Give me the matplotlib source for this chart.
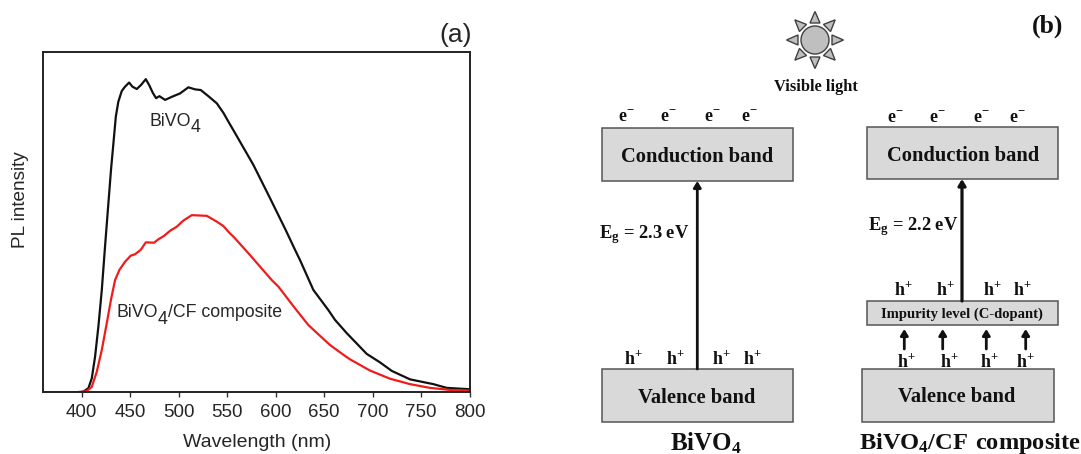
import matplotlib
matplotlib.use("Agg")
import matplotlib.pyplot as plt
import numpy as np
from matplotlib.patches import Rectangle, Polygon, Circle

# --- data ---
bivo4_wl = [360, 393, 401.6, 406.8, 410.3, 413.7, 417.1, 420.6, 424, 427.4, 430.2, 432.6, 435.1, 437.7, 441.2,
            444.6, 448.8, 452.2, 456.7, 461.1, 466, 469.4, 473.2, 476.6, 480, 485.9, 492.8, 501.3, 509.9,
            516.8, 522.7, 530.5, 539.2, 546, 552.2, 556.3, 576.9, 594.1, 610.3, 619.9, 625, 638.8, 654.2,
            661.1, 673.2, 693.8, 707.5, 719.6, 738.5, 762.5, 776.3, 800]
bivo4_pl = [0, 0, 0.2, 1.2, 4.1, 10.5, 19.3, 30, 43, 55.5, 65.7, 73.2, 81.1, 85.5, 88.6,
            89.9, 91.1, 89.9, 89.2, 90.4, 92.1, 90.4, 88.1, 86.5, 87.1, 86, 86.9, 87.9, 89.7,
            89.1, 88.9, 87.1, 85, 82.2, 79.1, 77.1, 66.9, 57.1, 47.7, 41.9, 38.9, 30.1, 24.2,
            21.3, 17.4, 11.3, 8.8, 6.3, 3.8, 2.4, 1.3, 0.9]
comp_wl = [360, 398.2, 405.2, 410.3, 415.5, 420.6, 425.8, 430.2, 434.3, 438.8, 444.6, 450.5, 454.9, 460.8, 466,
           474.5, 479, 484.8, 491, 497.9, 504.7, 513.4, 528.9, 539.2, 546, 552.2, 556.3, 571.8, 595.9,
           602.7, 619.9, 633.6, 645.7, 656, 671.4, 676.6, 697.2, 717.8, 738.5, 759.1, 779.7, 800]
comp_pl = [0, 0, 0.4, 1.6, 6.1, 12.4, 20.4, 27.4, 33, 36, 38.4, 40.2, 40.6, 41.9, 44.1,
           44, 45, 46, 47.5, 48.7, 50.5, 52.1, 51.9, 50.2, 48.9, 46.9, 45.8, 40.9, 33,
           31.1, 24.7, 19.8, 16.6, 13.9, 10.7, 9.7, 6.4, 4, 2.4, 1.3, 0.7, 0.5]
x_ticks = [400, 450, 500, 550, 600, 650, 700, 750, 800]

e_left = [626.7, 668.3, 712.3, 749.3]
e_right = [895, 937.7, 981, 1017.7]
h_left = [633.3, 675.7, 721.7, 752]
h_right_up = [903.3, 945.7, 992, 1022]
h_right_low = [906.7, 949.3, 989, 1025.3]
small_arrows = [904.3, 942.7, 986.3, 1025.7]
sun_angles = [0, 45, 90, 135, 180, 225, 270, 315]

W, H = 1081, 454
fig = plt.figure(figsize=(W / 100, H / 100), dpi=100)
SANS = "Liberation Sans"
SERIF = "Liberation Serif"
TC = "#262626"

# --- panel (a) ---
ax = fig.add_axes([43 / W, 1 - 392.3 / H, (469.7 - 43) / W, (392.3 - 52.3) / H])
ax.plot(bivo4_wl, bivo4_pl, color="#111111", lw=1.6)
ax.plot(comp_wl, comp_pl, color="#f01c1c", lw=1.6)
ax.set_xlim(360, 800)
ax.set_ylim(0, 100)
ax.set_yticks([])
ax.set_xticks(x_ticks)
ax.tick_params(axis="x", length=3.6, width=1, color="#333333", pad=5, labelsize=13.5, labelcolor=TC)
for t in ax.get_xticklabels():
    t.set_fontfamily(SANS)
for s in ax.spines.values():
    s.set_linewidth(1.4)
    s.set_color("#222222")
ax.set_zorder(2)

# --- full-figure pixel layer ---
ov = fig.add_axes([0, 0, 1, 1])
ov.set_xlim(0, W)
ov.set_ylim(H, 0)
ov.axis("off")
ov.set_zorder(3)
ov.patch.set_alpha(0)


def sans(x, y, s, size=13, **kw):
    ov.text(x, y, s, family=SANS, fontsize=size, color=TC, ha=kw.pop("ha", "center"), va="center", **kw)


def serif(x, y, s, size=11, **kw):
    ov.text(x, y, s, family=SERIF, weight="bold", fontsize=size, color="#111111",
            ha=kw.pop("ha", "center"), va="center", **kw)


sans(257, 442.5, "Wavelength (nm)", 14)
sans(21, 200, "PL intensity", 13.7, rotation=90)
sans(456, 35, "(a)", 19)
sans(149.7, 121.5, "BiVO", 12.8, ha="left")
sans(190.5, 128, "4", 12.8, ha="left")
sans(116.3, 312.5, "BiVO", 12.8, ha="left")
sans(157.3, 319, "4", 12.8, ha="left")
sans(167.7, 312.5, "/CF composite", 12.8, ha="left")


def box(x0, x1, y0, y1):
    ov.add_patch(Rectangle((x0, y0), x1 - x0, y1 - y0, fc="#d9d9d9", ec="#555555", lw=1.1))


box(602, 793.3, 128, 181)
box(866.7, 1058, 126.7, 179.3)
box(602, 793.3, 369.3, 421.7)
box(862.3, 1053.7, 369.3, 421.7)
box(866.7, 1058, 300.7, 325)


def arrow(x, y0, y1, lw=2.0):
    ov.annotate("", xy=(x, y1), xytext=(x, y0),
                arrowprops=dict(arrowstyle="-|>,head_width=0.22,head_length=0.36", color="#111111",
                                lw=lw, shrinkA=0, shrinkB=0))


arrow(697.3, 369, 181)
arrow(962, 301, 179, lw=2.3)
for x in small_arrows:
    arrow(x, 349, 329)

serif(697.3, 157.5, "Conduction band", 14.8)
serif(962.7, 156, "Conduction band", 14.8)
serif(697, 397.7, "Valence band", 14.8)
serif(957, 397, "Valence band", 14.8)
serif(962.3, 314, "Impurity level (C-dopant)", 10.5)
serif(815.7, 87, "Visible light", 11.8)
serif(1048, 26, "(b)", 18.5)
serif(706, 443, r"$\mathregular{BiVO_4}$", 18)
serif(970, 443, r"$\mathregular{BiVO_4/CF\ composite}$", 17.6)
serif(644.5, 235, r"$\mathregular{E_g}$ = 2.3 eV", 13.3)
serif(913, 227, r"$\mathregular{E_g}$ = 2.2 eV", 13.3)

for x in e_left:
    serif(x, 117, r"$\mathregular{e^{-}}$", 13)
for x in e_right:
    serif(x, 118.7, r"$\mathregular{e^{-}}$", 13)
for x in h_left:
    serif(x, 359, r"$\mathregular{h^{+}}$", 13)
for x in h_right_up:
    serif(x, 289.7, r"$\mathregular{h^{+}}$", 13)
for x in h_right_low:
    serif(x, 362.3, r"$\mathregular{h^{+}}$", 13)

# sun
cx, cy = 815, 40
ov.add_patch(Circle((cx, cy), 14, fc="#bfbfbf", ec="#404040", lw=1))
for a in sun_angles:
    r = np.radians(a)
    d = np.array([np.cos(r), -np.sin(r)])
    n = np.array([-d[1], d[0]])
    c = np.array([cx, cy])
    tip = c + d * 28.5
    b = c + d * 17
    ov.add_patch(Polygon([tip, b + n * 5, b - n * 5], closed=True, fc="#bfbfbf", ec="#404040", lw=1))

fig.savefig("out.png", dpi=100)
